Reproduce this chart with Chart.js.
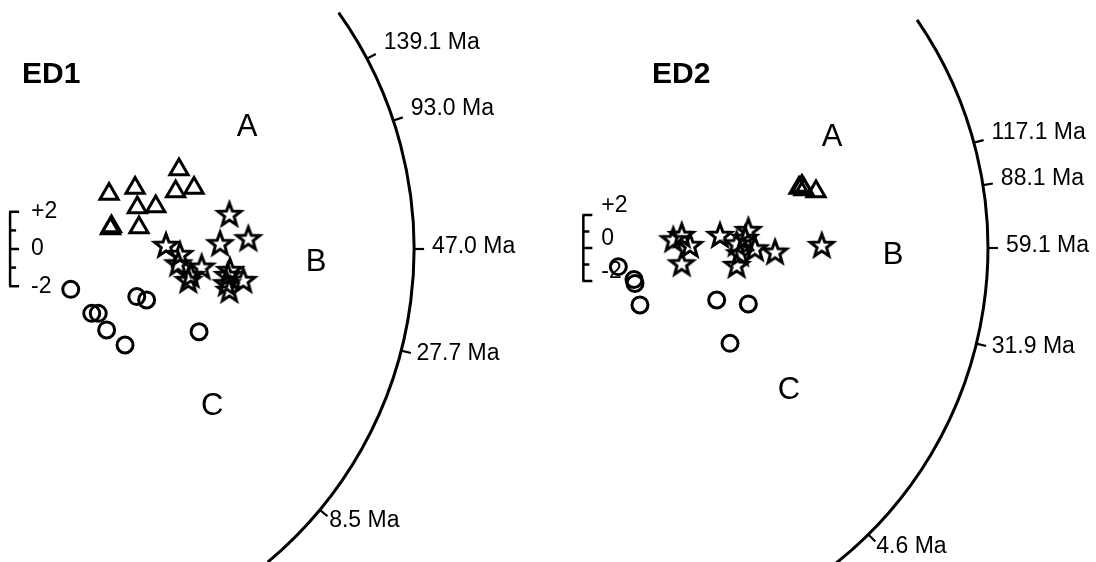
<!DOCTYPE html>
<html lang="en">
<head>
<meta charset="UTF-8">
<title>Radial plots ED1 / ED2</title>
<script src="https://cdn.jsdelivr.net/npm/chart.js"></script>
<style>
  body { margin: 0; background: #fff; }
  #wrap { position: relative; width: 1096px; height: 562px; }
  canvas { position: absolute; top: 0; }
</style>
</head>
<body>
<div id="wrap">
  <canvas id="ed1" width="548" height="562" style="left:0"></canvas>
  <canvas id="ed2" width="548" height="562" style="left:548px"></canvas>
</div>
<script>
// radial plot values: x = scaled precision, z = standardised estimate
const ed1TriX = [9.30, 9.12, 10.11, 5.54, 6.94, 7.06, 8.05, 7.15, 5.62, 5.67];
const ed1TriZ = [4.27, 3.09, 3.28, 2.96, 3.28, 2.23, 2.28, 1.16, 1.10, 1.21];
const ed1StarX = [12.01, 8.60, 9.35, 9.26, 10.52, 9.93, 9.80, 11.51, 13.03, 11.92, 12.76, 11.87, 12.01, 12.04];
const ed1StarZ = [1.88, 0.22, -0.27, -0.77, -0.95, -1.40, -1.67, 0.31, 0.58, -1.40, -1.67, -1.84, -2.20, -1.13];
const ed1CircX = [3.48, 4.61, 4.96, 5.41, 6.40, 7.03, 7.56, 10.38];
const ed1CircZ = [-2.17, -3.46, -3.46, -4.35, -5.16, -2.56, -2.74, -4.45];
const ed1Ages = [139.1, 93.0, 47.0, 27.7, 8.5];
const ed1Central = 47.0;

const ed2TriX = [12.97, 13.15, 13.27, 14.00];
const ed2TriZ = [3.64, 3.76, 3.55, 3.42];
const ed2StarX = [5.35, 5.86, 6.36, 5.86, 8.18, 9.19, 9.90, 10.30, 9.39, 9.19, 11.52, 14.35, 9.70];
const ed2StarZ = [0.53, 0.79, 0.18, -0.93, 0.79, 0.28, 1.09, -0.02, -0.32, -1.03, -0.22, 0.18, 0.61];
const ed2CircX = [2.02, 2.97, 3.03, 3.33, 7.98, 9.90, 8.79];
const ed2CircZ = [-1.13, -1.91, -2.15, -3.45, -3.15, -3.39, -5.78];
const ed2Ages = [117.1, 88.1, 59.1, 31.9, 4.6];
const ed2Central = 59.1;

const zTickValues = [2, 1, 0, -1, -2];
const zTickLabels = {2: '+2', 0: '0', '-2': '-2'};

const FONT = '"Liberation Sans", Arial, Helvetica, sans-serif';

function makeStar(outer, inner, lw) {
  const size = Math.ceil(2 * outer + 2 * lw + 4);
  const c = document.createElement('canvas');
  c.width = size; c.height = size;
  const g = c.getContext('2d');
  g.translate(size / 2, size / 2 + 1);
  g.beginPath();
  for (let i = 0; i < 10; i++) {
    const r = i % 2 ? inner : outer;
    const a = -Math.PI / 2 + i * Math.PI / 5;
    g.lineTo(r * Math.cos(a), r * Math.sin(a));
  }
  g.closePath();
  g.lineWidth = lw;
  g.lineJoin = 'miter';
  g.miterLimit = 3;
  g.strokeStyle = '#000';
  g.stroke();
  return c;
}
const starImg = makeStar(12, 5, 3);

const pts = (xs, zs) => xs.map((v, i) => ({x: v, y: zs[i]}));

const radialAxes = {
  id: 'radialAxes',
  afterDatasetsDraw(chart, args, o) {
    const {ctx, scales: {x, y}} = chart;
    const ox = x.getPixelForValue(0), oy = y.getPixelForValue(0);
    const rPx = x.getPixelForValue(o.radius) - ox;
    const deg = Math.PI / 180;
    ctx.save();
    ctx.strokeStyle = '#000';
    ctx.fillStyle = '#000';

    // age arc
    ctx.lineWidth = 3;
    ctx.beginPath();
    ctx.arc(ox, oy, rPx, -o.arcTop * deg, -o.arcBottom * deg, false);
    ctx.stroke();

    // age ticks + labels
    ctx.lineWidth = 2.2;
    ctx.font = '23px ' + FONT;
    ctx.textAlign = 'left';
    ctx.textBaseline = 'middle';
    o.ages.forEach(t => {
      const th = Math.atan(o.k * Math.log(t / o.central));
      const c = Math.cos(th), s = Math.sin(th);
      const x1 = ox + rPx * c, y1 = oy - rPx * s;
      const x2 = ox + (rPx + 10) * c, y2 = oy - (rPx + 10) * s;
      ctx.beginPath();
      ctx.moveTo(x1, y1);
      ctx.lineTo(x2, y2);
      ctx.stroke();
      const lx = x2 + 8 - 10 * Math.max(0, -s);
      const ly = y2 + (s > 0 ? -2 - 20 * s : -2 - 10 * s);
      ctx.fillText(t.toFixed(1) + ' Ma', lx, ly);
    });

    // z scale bar
    const bx = x.getPixelForValue(o.barX);
    ctx.lineWidth = 2.5;
    ctx.beginPath();
    ctx.moveTo(bx, y.getPixelForValue(2));
    ctx.lineTo(bx, y.getPixelForValue(-2));
    ctx.stroke();
    ctx.font = '23px ' + FONT;
    zTickValues.forEach(v => {
      const py = y.getPixelForValue(v);
      ctx.beginPath();
      ctx.moveTo(bx - 1, py);
      ctx.lineTo(bx + (v % 2 === 0 ? 9 : 6), py);
      ctx.stroke();
      if (zTickLabels[v] !== undefined) {
        ctx.fillText(zTickLabels[v], bx + o.barLabelDx, py + o.barLabelDy);
      }
    });

    // panel title and component letters
    ctx.font = 'bold 30px ' + FONT;
    ctx.fillText(o.title, x.getPixelForValue(o.titleAt[0]), y.getPixelForValue(o.titleAt[1]));
    ctx.font = '31px ' + FONT;
    ctx.textAlign = 'center';
    o.letters.forEach(l => {
      ctx.fillText(l[0], x.getPixelForValue(l[1]), y.getPixelForValue(l[2]));
    });
    ctx.restore();
  }
};

function radialChart(id, panel, tri, star, circ, axes) {
  const w = 548, h = 562;
  const base = {
    borderColor: '#000',
    backgroundColor: 'rgba(0,0,0,0)',
    borderWidth: 3,
    clip: false
  };
  return new Chart(document.getElementById(id), {
    type: 'scatter',
    data: {
      datasets: [
        Object.assign({label: 'A', data: tri, pointStyle: 'triangle', pointRadius: 10.5}, base),
        Object.assign({label: 'B', data: star, pointStyle: starImg, pointRadius: 12}, base),
        Object.assign({label: 'C', data: circ, pointStyle: 'circle', pointRadius: 8}, base)
      ]
    },
    options: {
      responsive: false,
      animation: false,
      events: [],
      layout: {padding: 0, autoPadding: false},
      scales: {
        x: {type: 'linear', display: false, min: -panel.cx / panel.ppu, max: (w - panel.cx) / panel.ppu},
        y: {type: 'linear', display: false, min: (panel.cy - h) / panel.ppu, max: panel.cy / panel.ppu}
      },
      plugins: {
        legend: {display: false},
        tooltip: {enabled: false},
        radialAxes: axes
      }
    },
    plugins: [radialAxes]
  });
}

radialChart('ed1', {cx: 6, cy: 249, ppu: 18.6},
  pts(ed1TriX, ed1TriZ), pts(ed1StarX, ed1StarZ), pts(ed1CircX, ed1CircZ), {
    radius: 21.94, k: 0.486, central: ed1Central, ages: ed1Ages,
    arcTop: 35.4, arcBottom: -50.1,
    barX: 0.22, barLabelDx: 21, barLabelDy: 0,
    title: 'ED1', titleAt: [0.86, 9.35],
    letters: [['A', 12.96, 6.51], ['B', 16.67, -0.75], ['C', 11.08, -8.49]]
  });

radialChart('ed2', {cx: 37, cy: 248, ppu: 16.5},
  pts(ed2TriX, ed2TriZ), pts(ed2StarX, ed2StarZ), pts(ed2CircX, ed2CircZ), {
    radius: 24.42, k: 0.396, central: ed2Central, ages: ed2Ages,
    arcTop: 34.5, arcBottom: -51.5,
    barX: -0.1, barLabelDx: 18, barLabelDy: -9,
    title: 'ED2', titleAt: [4.06, 10.48],
    letters: [['A', 14.97, 6.73], ['B', 18.67, -0.48], ['C', 12.36, -8.61]]
  });
</script>
</body>
</html>
